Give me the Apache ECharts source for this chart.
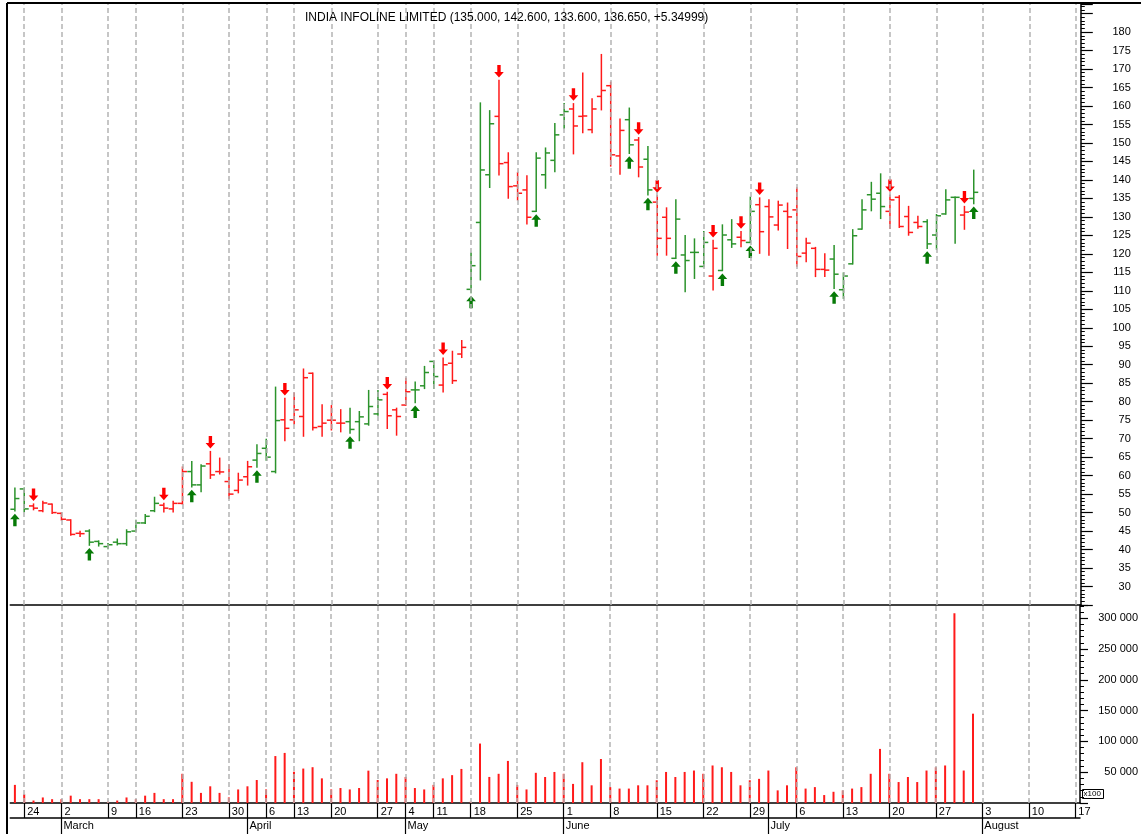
<!DOCTYPE html>
<html>
<head>
<meta charset="UTF-8">
<script src="https://cdn.jsdelivr.net/npm/echarts@6/dist/echarts.min.js"></script>
<style>
html, body { margin: 0; padding: 0; background: #fff; }
#chart { width: 1141px; height: 834px; }
</style>
</head>
<body>
<div id="chart"></div>
<script>
// trading days (MM-DD, 2009) followed by the empty slots up to the axis end
var dates = [
  '02-20','02-24','02-25','02-26','02-27',
  '03-02','03-03','03-04','03-05','03-06',
  '03-09','03-12','03-13',
  '03-16','03-17','03-18','03-19','03-20',
  '03-23','03-24','03-25','03-26','03-27',
  '03-30','03-31','04-01','04-02',
  '04-06','04-08','04-09',
  '04-13','04-15','04-16','04-17',
  '04-20','04-21','04-22','04-23','04-24',
  '04-27','04-28','04-29',
  '05-04','05-05','05-06',
  '05-11','05-12','05-13','05-14',
  '05-18','05-19','05-20','05-21','05-22',
  '05-25','05-26','05-27','05-28','05-29',
  '06-01','06-02','06-03','06-04','06-05',
  '06-08','06-09','06-10','06-11','06-12',
  '06-15','06-16','06-17','06-18','06-19',
  '06-22','06-23','06-24','06-25','06-26',
  '06-29','06-30','07-01','07-02','07-03',
  '07-06','07-07','07-08','07-09','07-10',
  '07-13','07-14','07-15','07-16','07-17',
  '07-20','07-21','07-22','07-23','07-24',
  '07-27','07-28','07-29','07-30','07-31',
  '08-03','08-04','08-05','08-06','08-07',
  '08-10','08-11','08-12','08-13','08-14',
  '08-17'
];

var open = [
  50.9,56.4,51.8,50.5,52.3,49.8,48.0,44.4,45.0,42.2,
  40.8,42.0,41.6,45.0,47.2,50.5,52.0,51.0,52.5,61.1,
  57.5,63.2,61.1,58.4,56.0,59.7,64.2,67.4,61.1,75.1,
  75.1,76.0,87.7,73.3,75.0,74.2,74.6,74.6,74.0,76.7,
  82.0,77.8,79.1,83.2,84.3,90.9,84.5,90.4,92.9,110.4,
  128.5,141.4,157.2,144.7,138.4,137.3,131.5,141.4,145.3,157.6,
  159.2,157.2,153.6,162.6,165.5,146.5,156.3,150.8,145.6,134.0,
  129.9,118.8,119.7,120.4,116.6,114.0,115.5,123.8,124.5,123.1,
  133.3,132.8,127.8,131.5,131.9,120.2,121.5,115.8,118.6,110.3,
  117.3,126.7,136.0,136.4,131.5,135.3,130.1,128.5,128.7,125.1,
  130.8,135.3,130.5,135.0
];
var high = [
  56.6,56.6,52.3,53.0,52.3,49.9,48.0,44.9,45.3,42.3,
  41.6,42.8,45.3,47.9,49.4,54.1,52.5,53.0,62.3,63.8,
  62.9,66.5,64.7,62.9,60.6,63.8,68.3,69.8,83.9,80.9,
  82.3,88.8,87.7,79.1,78.9,77.8,78.2,77.3,83.0,83.0,
  82.5,78.2,86.3,85.3,89.5,90.9,91.8,93.6,96.5,120.2,
  160.8,158.7,166.9,147.3,142.0,141.1,147.3,148.6,155.2,160.6,
  160.6,168.9,161.9,173.9,166.4,156.4,159.4,151.4,149.0,135.7,
  132.4,134.6,124.9,124.0,126.0,123.6,127.8,129.2,126.0,135.3,
  135.1,134.6,134.2,133.7,137.8,124.2,121.7,120.0,122.2,114.8,
  126.5,134.6,139.3,141.6,135.9,135.7,132.8,130.1,129.2,130.6,
  137.3,135.3,132.8,142.6
];
var low = [
  50.5,50.3,50.8,50.3,49.8,48.0,43.9,43.6,41.2,41.0,
  40.3,41.3,41.2,45.0,47.1,50.3,50.2,50.2,52.3,57.0,
  55.7,59.3,60.5,53.9,55.4,57.5,62.3,64.2,60.8,69.5,
  74.0,70.7,72.4,70.7,72.4,71.9,71.5,69.5,73.7,76.4,
  72.8,71.0,79.1,79.8,83.6,83.6,82.7,85.0,92.0,109.5,
  113.0,138.0,141.4,135.1,134.6,128.1,131.5,137.8,142.3,154.0,
  147.1,152.8,152.8,159.0,143.8,141.6,147.2,140.9,136.0,119.7,
  119.7,118.8,109.8,113.4,116.6,110.3,115.5,121.8,122.0,123.1,
  120.2,119.7,126.5,121.5,116.7,117.9,113.9,113.9,110.7,108.0,
  117.3,126.7,131.7,129.6,126.9,127.2,125.1,127.0,121.5,121.3,
  130.8,122.9,126.7,133.6
];
var close = [
  53.8,51.0,51.2,52.6,50.0,48.2,44.1,44.3,42.0,41.6,
  41.3,41.6,44.8,47.2,49.0,52.5,51.2,52.5,61.1,57.5,
  62.6,60.2,61.0,55.0,58.8,62.4,66.0,65.0,74.9,72.8,
  77.8,86.5,73.0,74.2,75.0,74.2,72.5,75.9,78.7,80.5,
  76.2,76.0,82.7,83.2,87.9,86.8,90.0,85.7,94.7,116.8,
  142.7,155.2,144.4,138.2,136.4,129.9,145.9,147.3,152.2,158.5,
  154.6,157.3,159.2,164.2,146.8,153.4,149.5,143.5,137.3,124.2,
  124.2,129.4,118.2,120.4,123.1,121.5,125.1,122.7,123.6,131.5,
  126.0,130.0,133.2,130.0,119.3,122.9,115.8,115.6,114.5,114.0,
  124.9,131.9,134.8,132.8,134.6,127.4,125.8,127.4,122.7,130.3,
  134.6,135.3,131.3,136.65
];
var volume = [
  29400,14100,4000,9000,6200,6200,11900,6200,6200,6200,
  2000,4000,9000,6200,11900,16400,6200,6200,47400,34400,
  16400,27100,16400,9000,22000,27100,37300,22000,76200,81300,
  50800,55900,58100,40000,22000,24300,22000,24300,52500,37300,
  40000,47400,42300,24300,22000,29400,40000,45200,55300,2000,
  96500,42300,47400,68300,29400,22000,49000,42200,50400,47400,
  31000,66200,28700,71400,25800,23400,23400,28700,28700,36900,
  50400,42200,50400,52700,47400,60900,58000,50400,28700,36900,
  39200,52700,20500,28700,58000,23400,25800,12900,18200,20500,
  23400,25800,47400,87800,47400,34000,42200,34000,52700,58000,
  60900,308000,52700,145000
];

// signal bars (index into dates)
var buySignals = [0,8,19,26,36,43,49,56,66,68,71,76,79,88,98,103];
var sellSignals = [2,16,21,29,40,46,52,60,67,69,75,78,80,94,102];

var weekStarts = ['02-24','03-02','03-09','03-16','03-23','03-30','04-06','04-13','04-20','04-27',
  '05-04','05-11','05-18','05-25','06-01','06-08','06-15','06-22','06-29','07-06','07-13',
  '07-20','07-27','08-03','08-10','08-17'];
var monthStarts = ['03-02','04-01','05-04','06-01','07-01','08-03'];
var monthNames = ['March','April','May','June','July','August'];

var GREEN = '#2b932b';
var RED = '#ff1a1a';
var FONT = 'Liberation Sans, Arial, sans-serif';

var barColors = [];
var state = 'up';
for (var i = 0; i < open.length; i++) {
  if (buySignals.indexOf(i) >= 0) state = 'up';
  if (sellSignals.indexOf(i) >= 0) state = 'down';
  barColors.push(state === 'up' ? GREEN : RED);
}

var ohlcData = [];
for (var i = 0; i < open.length; i++) {
  ohlcData.push([i, open[i], high[i], low[i], close[i]]);
}
var buyData = buySignals.map(function (i) { return [i, low[i]]; });
var sellData = sellSignals.map(function (i) { return [i, high[i]]; });

function renderOhlc(params, api) {
  var i = api.value(0);
  var pO = api.coord([i, api.value(1)]);
  var pH = api.coord([i, api.value(2)]);
  var pL = api.coord([i, api.value(3)]);
  var pC = api.coord([i, api.value(4)]);
  var x = pH[0];
  var st = { stroke: barColors[i], lineWidth: 1.5 };
  return {
    type: 'group',
    children: [
      { type: 'line', shape: { x1: x, y1: pH[1] - 0.7, x2: x, y2: pL[1] + 0.7 }, style: st },
      { type: 'line', shape: { x1: x - 4.5, y1: pO[1], x2: x, y2: pO[1] }, style: st },
      { type: 'line', shape: { x1: x, y1: pC[1], x2: x + 4.5, y2: pC[1] }, style: st }
    ]
  };
}

function arrowRenderer(up, color) {
  return function (params, api) {
    var p = api.coord([api.value(0), api.value(1)]);
    var x = p[0];
    var d = up ? 1 : -1;
    var y = p[1] + d * 3;
    var pts = [
      [x, y], [x + 4.8, y + d * 5.5], [x + 1.7, y + d * 5.5], [x + 1.7, y + d * 12.5],
      [x - 1.7, y + d * 12.5], [x - 1.7, y + d * 5.5], [x - 4.8, y + d * 5.5]
    ];
    return { type: 'polygon', shape: { points: pts }, style: { fill: color } };
  };
}

function weekLines() {
  return {
    silent: true,
    symbol: ['none', 'none'],
    label: { show: false },
    lineStyle: { type: [5, 3], color: '#b4b4b4', width: 1.5 },
    data: weekStarts.map(function (d) { return { xAxis: d }; })
  };
}

function fmtThousands(v) {
  return String(v).replace(/\B(?=(\d{3})+(?!\d))/g, ' ');
}

var chart = echarts.init(document.getElementById('chart'));
var option = {
  animation: false,
  title: {
    text: 'INDIA INFOLINE LIMITED (135.000, 142.600, 133.600, 136.650, +5.34999)',
    left: 300,
    top: 7,
    textStyle: { fontFamily: FONT, fontSize: 12, fontWeight: 'normal', color: '#000' }
  },
  grid: [
    { left: 10.25, right: 60.2, top: 4, height: 601 },
    { left: 10.25, right: 60.2, top: 605, height: 198 }
  ],
  xAxis: [
    {
      type: 'category', gridIndex: 0, data: dates, boundaryGap: true,
      axisLine: { show: true, onZero: false, lineStyle: { color: '#000', width: 1.5 } },
      axisTick: { show: false }, axisLabel: { show: false }, splitLine: { show: false }
    },
    {
      type: 'category', gridIndex: 1, data: dates, boundaryGap: true, position: 'bottom',
      axisLine: { show: true, onZero: false, lineStyle: { color: '#000', width: 1.5 } },
      axisTick: {
        show: true, alignWithLabel: true, length: 15,
        lineStyle: { color: '#000', width: 1.2 },
        interval: function (idx, val) { return weekStarts.indexOf(val) >= 0 || monthStarts.indexOf(val) >= 0; }
      },
      axisLabel: {
        show: true, margin: 3, align: 'left', padding: [0, 0, 0, 3],
        fontFamily: FONT, fontSize: 11, color: '#000',
        interval: function (idx, val) { return weekStarts.indexOf(val) >= 0; },
        formatter: function (val) { return String(parseInt(val.slice(3), 10)); }
      },
      splitLine: { show: false }
    },
    {
      type: 'category', gridIndex: 1, data: dates, boundaryGap: true, position: 'bottom', offset: 15,
      axisLine: { show: true, onZero: false, lineStyle: { color: '#000', width: 1.5 } },
      axisTick: {
        show: true, alignWithLabel: true, length: 16,
        lineStyle: { color: '#000', width: 1.2 },
        interval: function (idx, val) { return monthStarts.indexOf(val) >= 0; }
      },
      axisLabel: {
        show: true, margin: 2, align: 'left', padding: [0, 0, 0, 2],
        fontFamily: FONT, fontSize: 11, color: '#000',
        interval: function (idx, val) { return monthStarts.indexOf(val) >= 0; },
        formatter: function (val) { return monthNames[monthStarts.indexOf(val)]; }
      },
      splitLine: { show: false }
    }
  ],
  yAxis: [
    {
      type: 'value', gridIndex: 0, position: 'right', min: 25, max: 187.6, interval: 5,
      axisLine: { show: true, lineStyle: { color: '#000', width: 1.5 } },
      axisTick: { show: true, length: 12, lineStyle: { color: '#000', width: 1.2 } },
      minorTick: { show: true, splitNumber: 5, length: 4, lineStyle: { color: '#000', width: 1 } },
      splitLine: { show: false },
      axisLabel: {
        margin: 50, align: 'right', fontFamily: FONT, fontSize: 11, color: '#000',
        formatter: function (v) { return (v >= 30 && v <= 180 && v % 5 === 0) ? String(v) : ''; }
      }
    },
    {
      type: 'value', gridIndex: 1, position: 'right', min: 0, max: 321400, interval: 50000,
      axisLine: { show: true, lineStyle: { color: '#000', width: 1.5 } },
      axisTick: { show: true, length: 8, lineStyle: { color: '#000', width: 1.2 } },
      minorTick: { show: true, splitNumber: 5, length: 4, lineStyle: { color: '#000', width: 1 } },
      splitLine: { show: false },
      axisLabel: {
        margin: 58, align: 'right', fontFamily: FONT, fontSize: 11, color: '#000',
        formatter: function (v) { return (v > 0 && v % 50000 === 0) ? fmtThousands(v) : ''; }
      }
    }
  ],
  graphic: [
    { type: 'line', shape: { x1: 7, y1: 3, x2: 7, y2: 834 }, style: { stroke: '#000', lineWidth: 2 }, z: 10 },
    { type: 'line', shape: { x1: 7, y1: 3, x2: 1141, y2: 3 }, style: { stroke: '#000', lineWidth: 2 }, z: 10 },
    {
      type: 'group', left: 1082, top: 789, z: 10,
      children: [
        { type: 'rect', shape: { x: 0, y: 0, width: 21, height: 9 }, style: { fill: '#fff', stroke: '#000', lineWidth: 1 } },
        { type: 'text', style: { x: 1, y: 0.5, text: 'x100', font: '8px ' + FONT, fill: '#000' } }
      ]
    }
  ],
  series: [
    {
      name: 'grid-price', type: 'line', xAxisIndex: 0, yAxisIndex: 0, data: [], z: 1,
      markLine: weekLines()
    },
    {
      name: 'grid-volume', type: 'line', xAxisIndex: 1, yAxisIndex: 1, data: [], z: 1,
      markLine: weekLines()
    },
    {
      name: 'price', type: 'custom', xAxisIndex: 0, yAxisIndex: 0, z: 3,
      renderItem: renderOhlc, data: ohlcData, encode: { x: 0, y: [1, 2, 3, 4] }
    },
    {
      name: 'buy', type: 'custom', xAxisIndex: 0, yAxisIndex: 0, z: 4,
      renderItem: arrowRenderer(true, '#077a07'), data: buyData, encode: { x: 0, y: 1 }
    },
    {
      name: 'sell', type: 'custom', xAxisIndex: 0, yAxisIndex: 0, z: 4,
      renderItem: arrowRenderer(false, '#ff0000'), data: sellData, encode: { x: 0, y: 1 }
    },
    {
      name: 'volume', type: 'bar', xAxisIndex: 1, yAxisIndex: 1, z: 3,
      data: volume, barWidth: 2, itemStyle: { color: '#ff1a1a' }
    }
  ]
};
chart.setOption(option);
</script>
</body>
</html>
